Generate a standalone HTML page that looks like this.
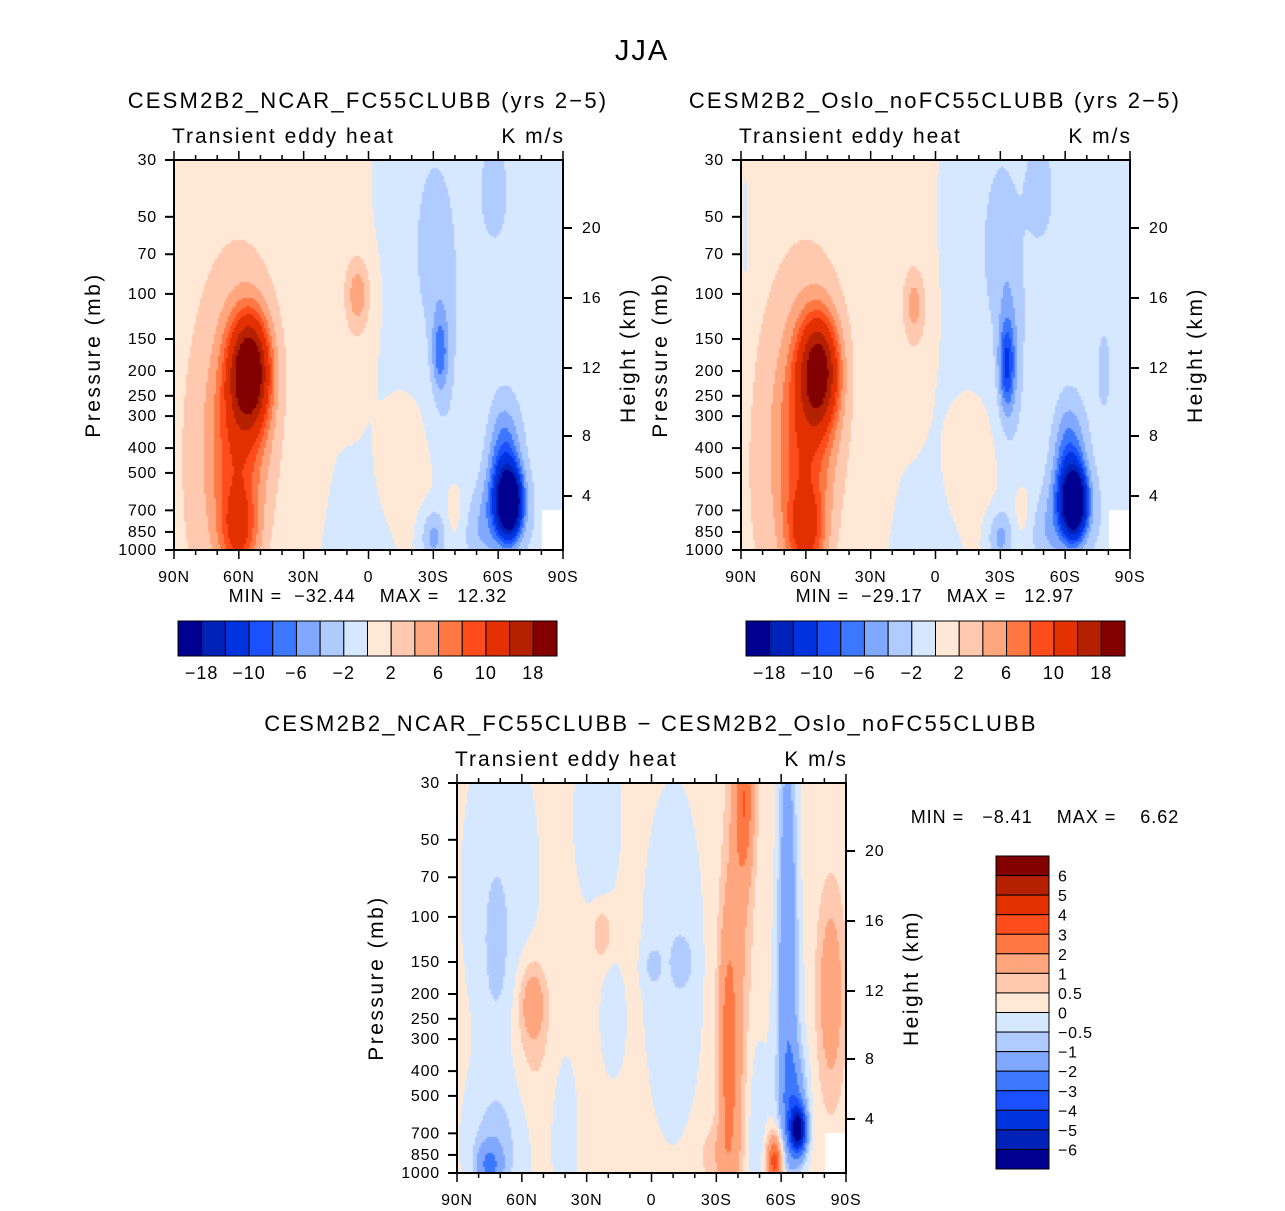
<!DOCTYPE html>
<html><head><meta charset="utf-8">
<style>
body{margin:0;background:#fff;}
#wrap{position:relative;width:1285px;height:1211px;overflow:hidden;font-family:"Liberation Sans",sans-serif;}
canvas{position:absolute;}
svg{position:absolute;left:0;top:0;}
text{font-family:"Liberation Sans",sans-serif;fill:#000;white-space:pre;}
</style></head>
<body>
<div id="wrap">
<canvas id="c1" width="389" height="390" style="left:174px;top:160px"></canvas>
<canvas id="c2" width="389" height="390" style="left:741px;top:160px"></canvas>
<canvas id="c3" width="389" height="390" style="left:457px;top:783px"></canvas>
<svg id="ov" width="1285" height="1211"></svg>
</div>
<script>
// ---- data ----
const latTicks = ["90N","60N","30N","0","30S","60S","90S"];
const presTicks = [30,50,70,100,150,200,250,300,400,500,700,850,1000];
const heightTicks = [20,16,12,8,4];
const levelsAbs = [-18,-14,-10,-8,-6,-4,-2,0,2,4,6,8,10,14,18];
const levelsDiff = [-6,-5,-4,-3,-2,-1,-0.5,0,0.5,1,2,3,4,5,6];
const absLabels = ["-18","-10","-6","-2","2","6","10","18"];
const diffLabels = ["6","5","4","3","2","1","0.5","0","-0.5","-1","-2","-3","-4","-5","-6"];
const colors = ["#000090","#0022b8","#0033e0","#1a50ff","#3c78ff","#80a8ff","#b0cbff","#d6e8ff","#ffe8d6","#ffc9b0","#ffa67f","#ff7844","#ff4c1c","#e33000","#b52000","#820000"];
const baseLat = [90,60,30,0,-30,-60,-90];
const base1Top = [1,1,1,0.05,-1,-1,-1];
const base1Bot = [1,1,0.2,-0.6,0.6,-1,-1];
const base2Top = [1,1,1,0.05,-1,-1,-1];
const base2Bot = [1,1,0.2,-0.6,0.6,-1,-1];
const base3Top = [0.25,0.25,0.25,0.25,0.25,0.25,0.25];
const base3Bot = [0.25,0.25,0.25,0.25,0.25,0.25,0.25];
// blobs: [lat, p(mb), amplitude, sigmaLat(deg), sigmaLog10p]
const blobs1 = [
 [55,200,19,6,0.14],[57,250,5,10,0.3],[60,850,7,6,0.12],[62,450,4,9,0.25],[70,500,1.5,15,0.6],
 [5,100,4.5,4,0.1],[5,140,1,6,0.25],[-15,450,1.2,8,0.15],
 [-65,650,-30,3.5,0.08],[-63,450,-7,5,0.15],[-62,700,-5,8,0.12],
 [-33,170,-5,2.5,0.1],[-35,200,-2,5,0.3],[-30,70,-2.5,7,0.25],[-58,40,-3,4,0.12],
 [-30,900,-5,4,0.08],[-50,900,-2,6,0.1],[-40,700,1.5,3,0.08]
];
const blobs2 = [
 [54,200,16,6,0.14],[57,250,5,10,0.3],[60,850,8,6,0.12],[62,450,4,9,0.25],[70,500,1.5,15,0.6],
 [10,110,4,3.5,0.1],[8,150,1,6,0.25],[88,60,-1.5,2,0.3],[-15,450,1.2,8,0.15],
 [-64,650,-28,3.5,0.08],[-62,450,-7,5,0.15],[-62,700,-5,8,0.12],
 [-33,190,-8,2.5,0.12],[-35,200,-2.5,5,0.3],[-30,70,-2.5,7,0.25],[-48,40,-3,4,0.12],
 [-30,900,-5,4,0.08],[-50,900,-2,6,0.1],[-78,200,-1.5,3,0.15],[-40,700,1.5,3,0.08]
];
const blobs3 = [
 [70,80,-0.6,14,0.5],[72,140,-0.5,4,0.2],[-10,150,-0.7,10,0.5],[25,40,-0.6,8,0.3],
 [-43,35,2.3,3,0.2],[-40,100,1.0,4,0.5],[-35,300,1.8,3,0.35],[-38,600,0.7,4,0.25],
 [-63,80,-1.8,3,0.6],[-63,300,-0.8,5,0.4],[-83,200,1.5,4,0.25],
 [55,215,1.3,4,0.1],[55,300,0.5,6,0.2],[23,115,0.9,3,0.07],
 [0,155,-0.5,3,0.06],[-15,150,-0.5,3,0.06],[18,260,-0.7,4,0.15],
 [75,930,-1.8,4,0.06],[72,800,-0.9,10,0.2],
 [-68,680,-6,2.5,0.06],[-66,560,-2,4,0.15],[-57,900,3.5,2.5,0.07],
 [-48,700,-0.6,4,0.3],[40,700,-0.5,5,0.25],[-30,850,0.6,6,0.08]
];
// ---- geometry helpers ----
const W=389,H=390;
const L30=Math.log10(30),L1000=3;
function yOfP(p){return (Math.log10(p)-L30)/(L1000-L30)*H;}
function xOfLat(lat){return (90-lat)/180*W;}
function interp(arr,lat){
  for(let i=0;i<baseLat.length-1;i++){
    if(lat<=baseLat[i]&&lat>=baseLat[i+1]){const t=(baseLat[i]-lat)/(baseLat[i]-baseLat[i+1]);return arr[i]*(1-t)+arr[i+1]*t;}
  }return arr[arr.length-1];
}
function levelIdx(v,levels){let k=0;for(const l of levels){if(v>=l)k++;}return k;}
function drawField(id,bt,bb,blobs,levels){
  const ctx=document.getElementById(id).getContext('2d');
  const s=2;
  for(let py=0;py<H;py+=s){
    const lp=L30+(py+s/2)/H*(L1000-L30);const p=Math.pow(10,lp);
    const t=(lp-L30)/(L1000-L30);
    for(let px=0;px<W;px+=s){
      const lat=90-(px+s/2)/W*180;
      if(lat<-80&&p>700)continue;
      let v=interp(bt,lat)*(1-t)+interp(bb,lat)*t;
      for(const b of blobs){
        const dx=(lat-b[0])/b[3],dy=(lp-Math.log10(b[1]))/b[4];
        v+=b[2]*Math.exp(-0.5*(dx*dx+dy*dy));
      }
      ctx.fillStyle=colors[levelIdx(v,levels)];
      ctx.fillRect(px,py,s,s);
    }
  }
}
drawField('c1',base1Top,base1Bot,blobs1,levelsAbs);
drawField('c2',base2Top,base2Bot,blobs2,levelsAbs);
drawField('c3',base3Top,base3Bot,blobs3,levelsDiff);

// ---- annotations ----
const NS="http://www.w3.org/2000/svg";
const svg=document.getElementById('ov');
function el(tag,attrs,txt){const e=document.createElementNS(NS,tag);for(const k in attrs)e.setAttribute(k,attrs[k]);if(txt!==undefined)e.textContent=txt;svg.appendChild(e);return e;}
function txt(x,y,s,size,anchor,name,ls,rot){
  const a={x:x,y:y,'font-size':size,'text-anchor':anchor||'start','letter-spacing':ls||0};
  if(rot)a.transform='rotate(-90 '+x+' '+y+')';
  const e=el('text',a,s);
  
  
  return e;
}
txt(642,60,"JJA",29,'middle','figure-title',2);
const heightOff=[68,138,208,276,336];
function panel(x0,y0,title,tcx,tname){
  txt(tcx,y0-52,title,22,'middle',tname,2.2);
  txt(x0-2,y0-17,"Transient eddy heat",21,'start','panel-subtitle',2);
  txt(x0+W+2,y0-17,"K m/s",21,'end','units-label',2);
  const f=el('rect',{x:x0,y:y0,width:W,height:H,fill:'none',stroke:'#000','stroke-width':2});
  
  for(let lat=90;lat>=-90;lat-=10){
    const x=x0+xOfLat(lat);const maj=(lat%30===0);const len=maj?9:5;
    el('line',{x1:x,y1:y0,x2:x,y2:y0-len,stroke:'#000','stroke-width':1.5});
    el('line',{x1:x,y1:y0+H,x2:x,y2:y0+H+len,stroke:'#000','stroke-width':1.5});
  }
  latTicks.forEach((l,i)=>{txt(x0+i*W/6,y0+H+32,l,16,'middle','x-tick-label',0.8);});
  presTicks.forEach(p=>{const y=y0+yOfP(p);
    el('line',{x1:x0,y1:y,x2:x0-9,y2:y,stroke:'#000','stroke-width':2});
    txt(x0-17,y+5,String(p),16,'end','y-tick-label',0.8);});
  heightTicks.forEach((h,i)=>{const y=y0+heightOff[i];
    el('line',{x1:x0+W,y1:y,x2:x0+W+9,y2:y,stroke:'#000','stroke-width':2});
    txt(x0+W+19,y+5,String(h),16,'start','height-tick-label',0.8);});
  txt(x0-74,y0+195,"Pressure (mb)",21,'middle','y-axis-title',2.5,true);
  txt(x0+W+72,y0+195,"Height (km)",21,'middle','height-axis-title',2.5,true);
}
panel(174,160,"CESM2B2_NCAR_FC55CLUBB (yrs 2\u22125)",368,'panel-title-ncar');
panel(741,160,"CESM2B2_Oslo_noFC55CLUBB (yrs 2\u22125)",935,'panel-title-oslo');
panel(457,783,"CESM2B2_NCAR_FC55CLUBB \u2212 CESM2B2_Oslo_noFC55CLUBB",651,'panel-title-diff');
txt(368,602,"MIN =  \u221232.44    MAX =   12.32",18,'middle','min-max-ncar',1);
txt(935,602,"MIN =  \u221229.17    MAX =   12.97",18,'middle','min-max-oslo',1);
txt(1045,823,"MIN =   \u22128.41    MAX =    6.62",18,'middle','min-max-diff',1);
function hbar(x0,name){
  const bw=(557-178)/16;
  colors.forEach((c,i)=>{const r=el('rect',{x:x0+i*bw,y:621,width:bw,height:35,fill:c,stroke:'#000','stroke-width':1});
    });
  const idx=[1,3,5,7,9,11,13,15];
  absLabels.forEach((l,i)=>{txt(x0+idx[i]*bw,679,l.replace('-','\u2212'),18,'middle',name+'-label',1);});
}
hbar(178,'colorbar-ncar');hbar(746,'colorbar-oslo');
const vh=(1169-856)/16;
colors.slice().reverse().forEach((c,i)=>{const r=el('rect',{x:996,y:856+i*vh,width:53,height:vh,fill:c,stroke:'#000','stroke-width':1});
  });
diffLabels.forEach((l,i)=>{txt(1058,856+(i+1)*vh+6,l.replace('-','\u2212'),16,'start','colorbar-diff-label',0.8);});
</script>
</body></html>
